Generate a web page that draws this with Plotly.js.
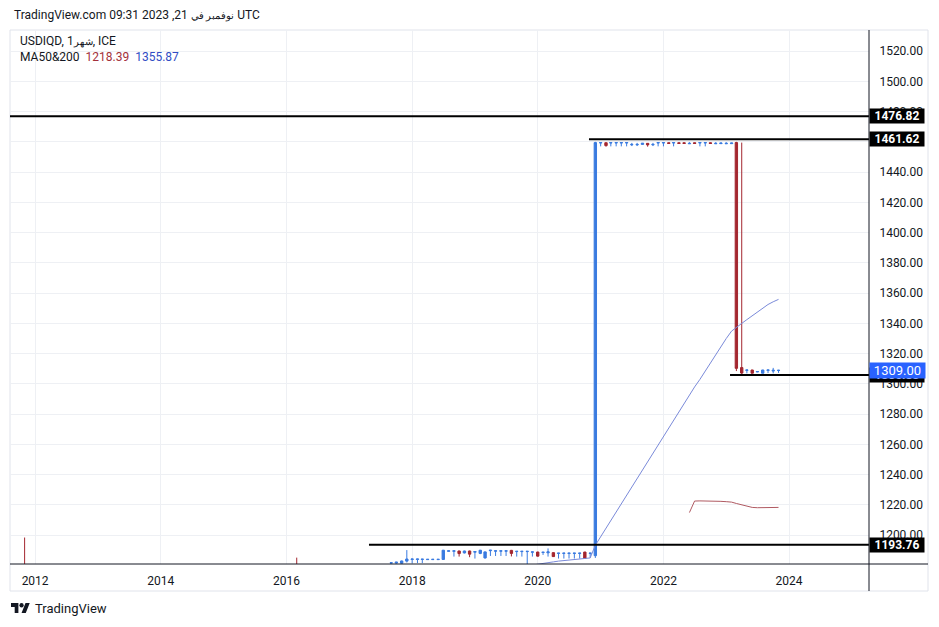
<!DOCTYPE html>
<html>
<head>
<meta charset="utf-8">
<script src="https://cdn.plot.ly/plotly-3.0.1.min.js"></script>
<style>
html,body{margin:0;padding:0;background:#ffffff;}
#chart{width:939px;height:627px;}
</style>
</head>
<body>
<div id="chart"></div>
<script>
// ---- Data (monthly USDIQD candles) ----
var candleDates = [
  "2011-11-01","2016-03-01",
  "2017-09-01","2017-10-01","2017-11-01","2017-12-01",
  "2018-01-01","2018-02-01","2018-03-01","2018-04-01","2018-05-01","2018-06-01",
  "2018-07-01","2018-08-01","2018-09-01","2018-10-01","2018-11-01","2018-12-01",
  "2019-01-01","2019-02-01","2019-03-01","2019-04-01","2019-05-01","2019-06-01",
  "2019-07-01","2019-08-01","2019-09-01","2019-10-01","2019-11-01","2019-12-01",
  "2020-01-01","2020-02-01","2020-03-01","2020-04-01","2020-05-01","2020-06-01",
  "2020-07-01","2020-08-01","2020-09-01","2020-10-01","2020-11-01","2020-12-01",
  "2021-01-01","2021-02-01","2021-03-01","2021-04-01","2021-05-01","2021-06-01",
  "2021-07-01","2021-08-01","2021-09-01","2021-10-01","2021-11-01","2021-12-01",
  "2022-01-01","2022-02-01","2022-03-01","2022-04-01","2022-05-01","2022-06-01",
  "2022-07-01","2022-08-01","2022-09-01","2022-10-01","2022-11-01","2022-12-01",
  "2023-01-01","2023-02-01","2023-03-01","2023-04-01","2023-05-01","2023-06-01",
  "2023-07-01","2023-08-01","2023-09-01","2023-10-01","2023-11-01"
];
var candleOpen = [
  1180.0,1179.0,
  1181.6,1181.6,1181.5,1182.9,
  1184.0,1184.0,1184.0,1183.9,1183.9,1183.9,
  1184.0,1189.4,1189.4,1189.6,1188.3,1189.6,
  1188.8,1188.0,1185.0,1189.8,1189.5,1189.5,
  1189.5,1190.0,1189.2,1189.2,1189.2,1188.8,
  1188.9,1188.6,1188.4,1188.5,1188.0,1188.0,
  1188.0,1188.0,1188.0,1188.9,1188.0,1186.5,
  1459.2,1459.4,1459.2,1459.2,1459.2,1459.2,
  1458.0,1458.0,1458.3,1459.0,1458.0,1459.2,
  1459.2,1459.4,1459.2,1459.4,1459.4,1458.7,
  1459.4,1459.2,1459.2,1459.4,1458.7,1458.8,
  1458.7,1458.8,1459.5,1310.8,1309.0,1309.2,
  1307.9,1307.1,1309.0,1308.5,1308.9
];
var candleHigh = [
  1198.5,1185.2,
  1182.0,1182.4,1183.2,1190.2,
  1184.4,1184.4,1184.4,1184.2,1184.2,1184.2,
  1190.3,1189.8,1189.8,1189.8,1189.8,1189.8,
  1189.6,1190.3,1189.2,1190.3,1189.8,1189.8,
  1189.8,1190.3,1189.5,1189.5,1189.5,1189.1,
  1189.1,1188.9,1191.3,1188.6,1188.3,1188.3,
  1188.3,1188.3,1188.3,1189.0,1188.3,1460.0,
  1459.6,1459.5,1459.6,1459.6,1459.6,1459.6,
  1459.3,1459.3,1459.2,1459.1,1459.3,1459.6,
  1459.6,1459.5,1459.6,1459.5,1459.5,1459.8,
  1459.5,1459.6,1459.6,1459.5,1459.8,1459.3,
  1459.8,1459.3,1460.0,1459.5,1309.3,1309.3,
  1308.3,1309.3,1309.3,1310.6,1309.3
];
var candleLow = [
  1165.0,1170.0,
  1181.4,1181.2,1181.3,1182.0,
  1181.4,1181.6,1181.6,1183.8,1183.8,1183.8,
  1183.8,1189.3,1185.9,1185.9,1188.0,1185.5,
  1184.6,1187.5,1184.6,1186.3,1186.3,1186.3,
  1186.3,1186.0,1185.9,1185.9,1178.0,1185.9,
  1186.0,1187.0,1185.9,1185.7,1184.6,1184.6,
  1184.6,1184.6,1184.6,1184.5,1185.2,1185.0,
  1457.0,1456.8,1457.0,1457.0,1457.0,1457.0,
  1457.2,1457.2,1458.2,1456.8,1457.2,1457.0,
  1457.0,1458.8,1457.0,1458.8,1458.8,1458.6,
  1458.8,1457.0,1457.0,1458.8,1458.6,1458.7,
  1458.6,1458.7,1308.5,1306.5,1307.0,1307.0,
  1307.8,1307.0,1307.2,1307.0,1307.3
];
var candleClose = [
  1170.0,1175.0,
  1181.8,1182.2,1183.0,1184.3,
  1184.3,1184.3,1184.2,1184.1,1184.1,1184.1,
  1190.1,1189.7,1189.7,1187.9,1189.6,1187.5,
  1189.2,1190.1,1189.0,1190.1,1189.7,1189.7,
  1189.7,1188.0,1189.4,1189.4,1189.4,1189.0,
  1186.2,1188.8,1189.0,1185.9,1188.2,1188.2,
  1188.2,1188.2,1188.2,1184.7,1188.2,1459.5,
  1459.5,1457.5,1459.5,1459.5,1459.5,1459.5,
  1458.3,1458.3,1459.1,1458.0,1458.3,1459.5,
  1459.5,1458.9,1459.5,1458.9,1458.9,1459.0,
  1458.9,1459.5,1459.5,1458.9,1459.0,1459.2,
  1459.0,1459.2,1310.3,1307.2,1309.2,1307.1,
  1308.2,1309.2,1309.2,1309.0,1309.0
];

// Moving averages (MA50 blue, MA200 red)
var ma50Dates = [
  "2019-11-01","2019-12-01","2020-01-01","2020-02-01","2020-03-01","2020-04-01",
  "2020-05-01","2020-06-01","2020-07-01","2020-08-01","2020-09-01","2020-10-01",
  "2020-11-01","2020-12-01","2021-01-01","2021-02-01","2021-03-01","2021-04-01",
  "2021-05-01","2021-06-01","2021-07-01","2021-08-01","2021-09-01","2021-10-01",
  "2021-11-01","2021-12-01","2022-01-01","2022-02-01","2022-03-01","2022-04-01",
  "2022-05-01","2022-06-01","2022-07-01","2022-08-01","2022-09-01","2022-10-01",
  "2022-11-01","2022-12-01","2023-01-01","2023-02-01","2023-03-01","2023-04-01",
  "2023-05-01","2023-06-01","2023-07-01","2023-08-01","2023-09-01","2023-10-01",
  "2023-11-01"
];
var ma50Values = [
  1179.8,1180.4,1180.9,1181.4,1181.9,1182.4,
  1182.9,1183.3,1183.7,1184.1,1184.4,1184.7,
  1185.0,1193.4,1199.0,1204.5,1210.0,1216.0,
  1221.5,1227.0,1232.5,1238.0,1243.5,1249.0,
  1254.5,1260.0,1265.5,1271.0,1276.5,1282.0,
  1287.5,1293.0,1298.0,1303.0,1308.5,1314.0,
  1319.5,1325.0,1330.0,1334.9,1337.5,1340.0,
  1342.5,1345.0,1347.5,1350.0,1352.5,1354.3,
  1355.87
];
var ma200Dates = [
  "2022-06-01","2022-07-01","2022-08-01","2022-09-01","2022-10-01","2022-11-01",
  "2022-12-01","2023-01-01","2023-02-01","2023-03-01","2023-04-01","2023-05-01",
  "2023-06-01","2023-07-01","2023-08-01","2023-09-01","2023-10-01","2023-11-01"
];
var ma200Values = [
  1215.0,1222.6,1222.7,1222.7,1222.6,1222.5,
  1222.4,1222.2,1221.9,1221.0,1220.0,1219.1,
  1218.4,1218.2,1218.2,1218.3,1218.35,1218.39
];

// Horizontal level lines and price-scale labels
var levelValues = [1476.82, 1461.62, 1305.83, 1193.76];
var levelStarts = ["2011-08-08", "2020-10-25", "2023-01-23", "2017-04-25"];
var levelLabels = ["1476.82", "1461.62", "1305.83", "1193.76"];
var lastPrice = 1309.00;
var lastPriceLabel = "1309.00";

var yearTicks = ["2012-01-01","2014-01-01","2016-01-01","2018-01-01","2020-01-01","2022-01-01","2024-01-01"];
var yearLabels = ["2012","2014","2016","2018","2020","2022","2024"];

var xRange = ["2011-08-08", "2025-04-10"];
var yRange = [1181.0, 1533.9];

// ---- Styling ----
var UP = "#3a7be0", DOWN = "#a3262f";
var TXT = "#131722";
var FONT = "Roboto, 'Liberation Sans', Arial, sans-serif";
var AR = function (s) { return "<span style='font-size:10px'>" + s + "</span>"; };

var traces = [
  {
    type: "candlestick",
    x: candleDates, open: candleOpen, high: candleHigh, low: candleLow, close: candleClose,
    increasing: {line: {color: UP, width: 1}, fillcolor: UP},
    decreasing: {line: {color: DOWN, width: 1}, fillcolor: DOWN},
    whiskerwidth: 0,
    hoverinfo: "skip",
    showlegend: false
  },
  {
    type: "scatter", mode: "lines",
    x: ma50Dates, y: ma50Values,
    line: {color: "#7a8ad9", width: 1},
    hoverinfo: "skip", showlegend: false
  },
  {
    type: "scatter", mode: "lines",
    x: ma200Dates, y: ma200Values,
    line: {color: "#b05a62", width: 1},
    hoverinfo: "skip", showlegend: false
  }
];

var shapes = [];
// outer border
shapes.push({type: "rect", xref: "paper", yref: "paper", x0: 0, x1: 918/859, y0: -27/534, y1: 1,
  line: {color: "#e0e3eb", width: 1}, layer: "below"});
// level lines
for (var i = 0; i < levelValues.length; i++) {
  shapes.push({type: "line", xref: "x", yref: "y", x0: levelStarts[i], x1: xRange[1],
    y0: levelValues[i], y1: levelValues[i], line: {color: "#000000", width: 2}});
}
// price scale border and time axis line
shapes.push({type: "line", xref: "paper", yref: "paper", x0: 1, x1: 1, y0: -27/534, y1: 1,
  line: {color: "#131722", width: 1}});
shapes.push({type: "line", xref: "paper", yref: "paper", x0: 0, x1: 918/859, y0: 0, y1: 0,
  line: {color: "#131722", width: 1}});

var annotations = [];
// header
annotations.push({xref: "paper", yref: "paper", x: 2/859, y: (564-15)/534, xanchor: "left", yanchor: "middle",
  showarrow: false,
  text: "TradingView.com 09:31 2023 ,21 " + AR("\u0641\u064A\u200E \u0646\u0648\u0641\u0645\u0628\u0631\u200E") + " UTC",
  font: {family: FONT, size: 12, color: TXT}});
annotations.push({xref: "paper", yref: "paper", x: 8/859, y: (564-41)/534, xanchor: "left", yanchor: "middle",
  showarrow: false, text: "USDIQD, 1" + AR("\u0634\u0647\u0631\u200E") + ", ICE",
  font: {family: FONT, size: 12, color: TXT}});
annotations.push({xref: "paper", yref: "paper", x: 8/859, y: (564-57)/534, xanchor: "left", yanchor: "middle",
  showarrow: false,
  text: "MA50&amp;200\u00A0\u00A0<span style='color:#a3303a'>" + ma200Values[ma200Values.length-1].toFixed(2) +
        "</span>\u00A0\u00A0<span style='color:#2f4cc4'>" + ma50Values[ma50Values.length-1].toFixed(2) + "</span>",
  font: {family: FONT, size: 12, color: TXT}});
// footer
annotations.push({xref: "paper", yref: "paper", x: 23/859, y: (564-608)/534, xanchor: "left", yanchor: "middle",
  showarrow: false, text: "TradingView", font: {family: FONT, size: 13, color: TXT}});
// level labels on price scale
for (var j = 0; j < levelValues.length; j++) {
  annotations.push({xref: "paper", yref: "y", x: 1, y: levelValues[j], xanchor: "left", yanchor: "middle",
    showarrow: false, text: "<b>" + levelLabels[j] + "</b>", bgcolor: "#000000", borderpad: 0,
    width: 54, height: 14, align: "center", font: {family: FONT, size: 12, color: "#ffffff"}});
}
// last price label (on top)
annotations.push({xref: "paper", yref: "y", x: 1, y: lastPrice, xanchor: "left", yanchor: "middle",
  showarrow: false, text: lastPriceLabel, bgcolor: "#2962ff", borderpad: 0,
  width: 55, height: 15, align: "center", font: {family: FONT, size: 13, color: "#ffffff"}});

var logoSvg = "<svg xmlns='http://www.w3.org/2000/svg' viewBox='0 4 36 18'>" +
  "<path fill='#131722' d='M14 22H7V11H0V4h14v18zM28 22h-8l7.5-18h8L28 22z'/>" +
  "<circle fill='#131722' cx='20' cy='8' r='4'/></svg>";

var layout = {
  width: 939, height: 627,
  margin: {l: 10, r: 70, t: 30, b: 63, pad: 0},
  paper_bgcolor: "#ffffff", plot_bgcolor: "#ffffff",
  showlegend: false,
  hovermode: false,
  dragmode: false,
  xaxis: {
    type: "date", range: xRange,
    tickvals: yearTicks, ticktext: yearLabels,
    showgrid: true, gridcolor: "#eef0f4", gridwidth: 1,
    zeroline: false, showline: false,
    ticks: "outside", ticklen: 6, tickcolor: "rgba(0,0,0,0)",
    tickfont: {family: FONT, size: 12, color: TXT},
    rangeslider: {visible: false},
    fixedrange: true
  },
  yaxis: {
    side: "right", range: yRange,
    tick0: 1200, dtick: 20, tickformat: ".2f",
    showgrid: true, gridcolor: "#eef0f4", gridwidth: 1,
    zeroline: false, showline: false,
    ticks: "outside", ticklen: 7, tickcolor: "rgba(0,0,0,0)",
    tickfont: {family: FONT, size: 12, color: TXT},
    fixedrange: true
  },
  shapes: shapes,
  annotations: annotations,
  images: [{
    source: "data:image/svg+xml;charset=utf-8," + encodeURIComponent(logoSvg),
    xref: "paper", yref: "paper", x: 1/859, y: (564-603)/534,
    sizex: 19/859, sizey: 10/534, xanchor: "left", yanchor: "top", sizing: "stretch", layer: "above"
  }]
};

Plotly.newPlot("chart", traces, layout, {displayModeBar: false, staticPlot: true});
</script>
</body>
</html>
